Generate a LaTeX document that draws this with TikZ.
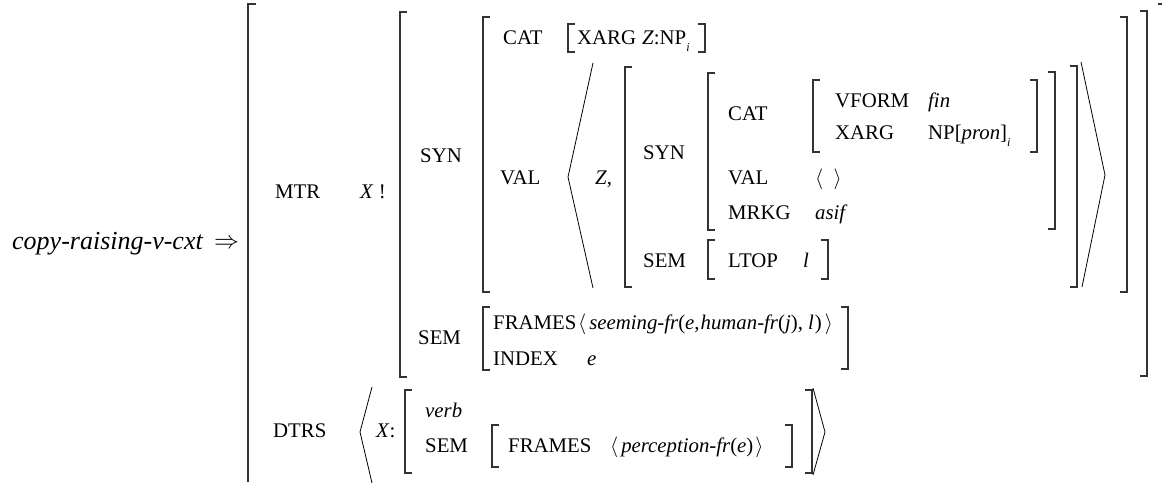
\documentclass[tikz,border=0pt]{standalone}
\usepackage{fontspec}
\setmainfont{Liberation Serif}
\newcommand{\sbi}{\raisebox{-0.35em}{\fontsize{12}{12}\selectfont\itshape i}}
\tikzset{
  t/.style={inner sep=0pt, anchor=base west, font=\fontsize{20.8}{24}\selectfont},
  br/.style={line width=1.1pt, black!80},
  ang/.style={line width=0.8pt, black}
}
\begin{document}
\begin{tikzpicture}[x=1pt,y=-1pt]
\useasboundingbox (0,0) rectangle (1162,482);
\fill[white] (0,0) rectangle (1162,482);
% texts
\node[t] (main) at (12,249) {\fontsize{26}{30}\selectfont\itshape copy-raising-v-cxt};
\node[t] (arrow) at (214,248) {\fontsize{23}{26}\selectfont$\Rightarrow$};
\node[t] (mtr) at (275,198) {MTR};
\node[t] (xbang) at (360,198) {\textit{X} !};
\node[t] (dtrs) at (273,437) {DTRS};
\node[t] (xcolon) at (376,437) {\textit{X}:};
\node[t] (syn1) at (420,162) {SYN};
\node[t] (cat1) at (503,44) {CAT};
\node[t] (xarg1) at (577,44) {XARG};
\node[t] (znp) at (642,44) {\textit{Z}:NP\sbi};
\node[t] (val1) at (500,184) {VAL};
\node[t] (zcomma) at (595,184) {\textit{Z},};
\node[t] (syn2) at (643,159) {SYN};
\node[t] (cat2) at (728,120) {CAT};
\node[t] (vform) at (835,107) {VFORM};
\node[t] (fin) at (928,107) {\textit{fin}};
\node[t] (xarg2) at (835,139) {XARG};
\node[t] (nppron) at (928,139) {NP[\textit{pron}]\sbi};
\node[t] (val2) at (728,184) {VAL};
\node[t] (empty) at (815,184) {$\langle\ \ \rangle$};
\node[t] (mrkg) at (728,219) {MRKG};
\node[t] (asif) at (815,219) {\textit{asif}};
\node[t] (sem2) at (643,267) {SEM};
\node[t] (ltop) at (728,267) {LTOP};
\node[t] (lvar) at (803,267) {\textit{l}};
\node[t] (sem1) at (418,344) {SEM};
\node[t] (frames1) at (493,329) {FRAMES};
\node[t] (seem) at (578,329) {$\langle$\hspace{3pt}\textit{seeming-fr}(\textit{e},\hspace{1pt}\textit{human-fr}(\textit{j}), \textit{l}\hspace{1pt})\hspace{3pt}$\rangle$};
\node[t] (index) at (493,365) {INDEX};
\node[t] (evar) at (587,365) {\textit{e}};
\node[t] (verb) at (425,417) {\textit{verb}};
\node[t] (sem3) at (425,452) {SEM};
\node[t] (frames2) at (508,452) {FRAMES};
\node[t] (perc) at (610,452) {$\langle$\hspace{3pt}\textit{perception-fr}(\textit{e})\hspace{2pt}$\rangle$};
% brackets
\draw[br] (256,4) -- (248,4) -- (248,482);
\draw[br] (1158,4) -- (1162,4);
\draw[br] (407,12) -- (400,12) -- (400,377) -- (407,377);
\draw[br] (1140,11) -- (1147,11) -- (1147,376) -- (1140,376);
\draw[br] (490,17) -- (483,17) -- (483,292) -- (490,292);
\draw[br] (1120,17) -- (1127,17) -- (1127,292) -- (1120,292);
\draw[br] (575,24) -- (568,24) -- (568,52) -- (575,52);
\draw[br] (698,24) -- (705,24) -- (705,52) -- (698,52);
\draw[ang] (593,63) -- (568,177) -- (593,288);
\draw[ang] (1081,62) -- (1105,175) -- (1082,287);
\draw[br] (632,67) -- (625,67) -- (625,287) -- (632,287);
\draw[br] (1070,66) -- (1077,66) -- (1077,287) -- (1070,287);
\draw[br] (715,73) -- (708,73) -- (708,230) -- (715,230);
\draw[br] (1048,72) -- (1055,72) -- (1055,229) -- (1048,229);
\draw[br] (820,80) -- (813,80) -- (813,152) -- (820,152);
\draw[br] (1030,80) -- (1037,80) -- (1037,152) -- (1030,152);
\draw[br] (715,240) -- (708,240) -- (708,279) -- (715,279);
\draw[br] (821,240) -- (828,240) -- (828,279) -- (821,279);
\draw[br] (490,307) -- (483,307) -- (483,370) -- (490,370);
\draw[br] (841,307) -- (848,307) -- (848,369) -- (841,369);
\draw[ang] (372,387) -- (360,432) -- (372,483);
\draw[ang] (813,388) -- (825,432) -- (813,475);
\draw[br] (412,390) -- (405,390) -- (405,473) -- (412,473);
\draw[br] (805,390) -- (812,390) -- (812,473) -- (805,473);
\draw[br] (499,425) -- (492,425) -- (492,467) -- (499,467);
\draw[br] (785,425) -- (792,425) -- (792,467) -- (785,467);
\end{tikzpicture}
\end{document}
